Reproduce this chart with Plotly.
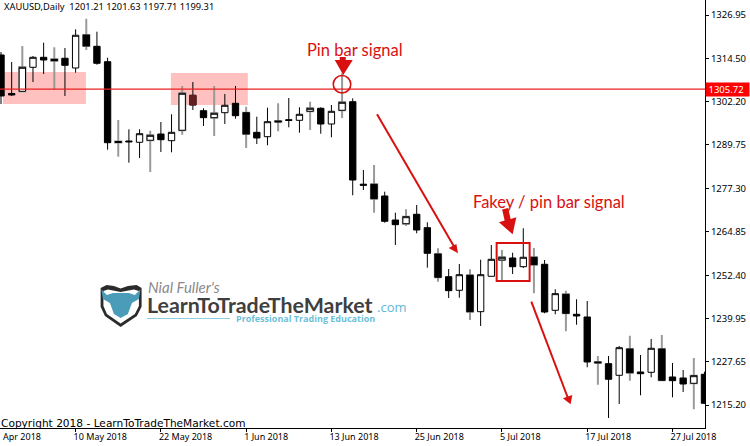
import plotly.graph_objects as go

# ---- data (XAUUSD daily) ----
bar_index = list(range(67))
opens = [1315.5,1304.46,1305.09,1311.97,1314.83,1314.26,1314.55,1311.77,1321.22,1317.98,1313.57,1290.71,1290.85,1290.48,1291.05,1292.85,1290.94,1293.92,1303.94,1299.53,1297.53,1298.96,1301.65,1298.96,1293.34,1292.08,1296.58,1296.95,1296.78,1299.36,1300.22,1295.72,1299.65,1302.11,1278.47,1278.44,1275.09,1268.21,1267.15,1269.85,1266.01,1258.47,1251.97,1248.07,1252.37,1241.94,1252.08,1256.75,1257.33,1254.83,1257.53,1255.52,1242.34,1246.92,1241.19,1240.42,1227.53,1227.04,1223.72,1231.25,1224.66,1224.57,1231.25,1223.23,1222.94,1221.42,1224.0]
highs = [1316.35,1313.49,1318.07,1315.2,1319.02,1317.7,1317.5,1322.85,1325.89,1322.17,1314.72,1296.87,1294.2,1294.2,1293.8,1296.29,1298.5,1306.61,1307.75,1300.22,1306.61,1304.32,1306.61,1300.68,1297.81,1300.39,1301.65,1303.17,1300.51,1302.11,1300.51,1301.16,1310.25,1303.08,1282.54,1283.97,1276.32,1270.3,1271.28,1272.51,1267.55,1260.1,1254.17,1255.61,1254.09,1256.84,1261.05,1259.62,1258.84,1265.84,1260.19,1256.75,1248.36,1247.96,1245.49,1245.0,1229.25,1229.25,1232.11,1235.06,1229.53,1234.12,1235.26,1227.24,1225.23,1228.67,1224.75]
lows = [1301.45,1303.75,1305.05,1307.75,1310.05,1305.66,1303.75,1310.42,1316.92,1312.71,1288.36,1286.35,1284.63,1285.98,1281.97,1287.7,1287.61,1292.65,1299.73,1295.15,1292.28,1295.72,1297.24,1288.84,1289.99,1289.62,1293.63,1294.77,1293.23,1294.0,1292.94,1291.91,1297.44,1275.29,1276.81,1270.3,1267.44,1261.05,1266.49,1264.4,1254.55,1250.53,1245.86,1245.95,1239.56,1237.84,1252.03,1251.02,1252.74,1254.46,1247.21,1241.48,1241.19,1236.32,1238.21,1226.01,1221.02,1211.48,1215.49,1222.17,1217.98,1223.14,1222.17,1217.41,1218.93,1213.97,1215.49]
closes = [1303.75,1304.03,1311.97,1314.83,1314.06,1313.86,1312.54,1321.14,1318.07,1313.11,1290.36,1290.42,1290.62,1292.94,1292.48,1291.22,1293.34,1304.52,1301.16,1297.53,1298.79,1301.08,1298.1,1292.85,1291.71,1296.38,1296.35,1296.75,1298.5,1300.22,1295.72,1299.36,1301.94,1279.67,1278.18,1274.32,1267.84,1266.87,1269.16,1265.35,1258.67,1251.8,1247.96,1252.54,1241.94,1252.54,1256.95,1257.53,1254.83,1257.53,1255.41,1241.85,1247.1,1241.48,1240.71,1227.53,1227.3,1222.57,1231.62,1224.46,1224.17,1231.45,1222.28,1222.17,1221.22,1223.6,1215.69]
x_tick_index = [7, 15, 23, 31, 39, 47, 55, 63]
x_tick_labels = ["10 May 2018", "22 May 2018", "1 Jun 2018", "13 Jun 2018",
                 "25 Jun 2018", "5 Jul 2018", "17 Jul 2018", "27 Jul 2018"]
first_x_label = "Apr 2018"
y_tick_values = [1326.95, 1314.50, 1302.20, 1289.75, 1277.30, 1264.85, 1252.40, 1239.95, 1227.65, 1215.20]
last_level = 1305.72
ohlc_header = "XAUUSD,Daily  1201.21 1201.63 1197.71 1199.31"

# ---- style ----
W_PLOT, H_PLOT = 705.5, 428.0
RED = "#d81010"
TICK_FONT = dict(family="Noto Sans", size=9.5, color="#000000")
X_TICK_FONT = dict(family="Noto Sans", size=9, color="#000000")
GREY_WICK = [2, 5, 8, 11, 14, 17, 20, 23, 26, 29, 32, 35, 38, 41, 44, 47, 50, 53, 56, 59, 62, 65]
TINTED = [18]


def px(x, y):
    return x / W_PLOT, 1 - y / H_PLOT


def poly(points, **kw):
    parts = []
    for k, (x, y) in enumerate(points):
        a, b = px(x, y)
        parts.append(f"{'M' if k == 0 else 'L'}{a:.5f},{b:.5f}")
    return dict(type="path", xref="paper", yref="paper", path=" ".join(parts) + " Z",
                line=dict(width=0), **kw)


def seg(x0, y0, x1, y1, color=RED, width=2):
    a, b = px(x0, y0)
    c, d = px(x1, y1)
    return dict(type="line", xref="paper", yref="paper", x0=a, y0=b, x1=c, y1=d,
                line=dict(color=color, width=width))


def rect(x0, y0, x1, y1, **kw):
    a, b = px(x0, y0)
    c, d = px(x1, y1)
    return dict(type="rect", xref="paper", yref="paper", x0=a, y0=b, x1=c, y1=d, **kw)


def note(x, y, text, size, color="#000000", family="Lato", anchor="left", **kw):
    a, b = px(x, y)
    return dict(xref="paper", yref="paper", x=a, y=b, text=text, showarrow=False, xanchor=anchor,
                yanchor="middle", font=dict(family=family, size=size, color=color),
                borderpad=0, **kw)


def candles(idx, body_only=False, wick="#000000", width=1, fill_up="#ffffff", fill_down="#000000"):
    o = [opens[i] for i in idx]
    c = [closes[i] for i in idx]
    if body_only:
        h = [max(a, b) for a, b in zip(o, c)]
        l = [min(a, b) for a, b in zip(o, c)]
    else:
        h = [highs[i] for i in idx]
        l = [lows[i] for i in idx]
    return go.Candlestick(
        x=[bar_index[i] for i in idx], open=o, high=h, low=l, close=c,
        increasing=dict(line=dict(color=wick, width=width), fillcolor=fill_up),
        decreasing=dict(line=dict(color=wick, width=width), fillcolor=fill_down),
        showlegend=False,
    )


sharp = [i for i in bar_index if i not in GREY_WICK]
fig = go.Figure()
fig.add_trace(candles(GREY_WICK, wick="#9a9a9a", width=2))
fig.add_trace(candles(sharp))
fig.add_trace(candles(GREY_WICK, body_only=True))
fig.add_trace(candles(TINTED, body_only=True, fill_down="#602020", wick="#602020"))

shapes = [
    rect(3, 72, 86, 104, fillcolor="#ffc0c0", line_width=0, layer="below"),
    rect(171, 73, 248, 105, fillcolor="#ffc0c0", line_width=0, layer="below"),
    dict(type="line", xref="paper", yref="y", x0=0, x1=1, y0=last_level, y1=last_level,
         line=dict(color="#e82020", width=1.2)),
    # circle and pin-bar arrow
    dict(type="circle", xref="paper", yref="paper",
         x0=px(333.5, 0)[0], x1=px(351, 0)[0], y0=px(0, 75.5)[1], y1=px(0, 93)[1],
         line=dict(color=RED, width=1.6)),
    poly([(340, 57), (346, 57), (346, 60), (353, 60), (343.5, 75), (335, 60), (340, 60)], fillcolor=RED),
    # long arrows
    seg(377.3, 114.3, 455.5, 248.5),
    poly([(458.3, 253.3), (449, 248), (456.7, 244)], fillcolor=RED),
    seg(531.7, 301.7, 568.5, 398.5),
    poly([(571, 404.3), (563.3, 398.3), (572.7, 395)], fillcolor=RED),
    # fakey box and arrow
    rect(497, 243, 530, 281, line=dict(color=RED, width=2), fillcolor="rgba(0,0,0,0)"),
    poly([(502.5, 209.5), (508.5, 208), (511, 219), (516.7, 217.3), (513, 234.3), (499.3, 222.3), (505, 220.5)],
         fillcolor=RED),
    # logo shield
    poly([(100.7, 288), (106.7, 285), (114, 286), (120.7, 288.5), (128, 286), (136.7, 285), (141.7, 288),
          (141.7, 306.7), (137, 316), (120.7, 327), (105, 316), (100.7, 306.7)], fillcolor="#2b2b2b"),
    poly([(103.5, 291), (108, 289.5), (120.7, 292), (134, 289.5), (139, 291), (139, 306), (135, 314),
          (120.7, 323.5), (107, 314), (103.5, 306)], fillcolor="#ffffff"),
    poly([(101.5, 289.5), (107, 295), (113, 293), (129, 293), (135, 295), (140.5, 289.5), (139, 299),
          (132, 303), (128, 314), (120.7, 318), (114, 314), (110, 303), (103, 299)], fillcolor="#4a9cb8"),
    seg(147, 318.5, 230, 318.5, color="#8ccfe0", width=1.2),
]

annotations = [
    note(3, 6.5, ohlc_header, 9.3, family="Noto Sans"),
    note(0, 423, "Copyright 2018 - LearnToTradeTheMarket.com", 10.6, family="DejaVu Sans"),
    note(2, 436.5, first_x_label, 9, family="Noto Sans"),
    note(306, 50, "Pin bar signal", 16.5, color=RED),
    note(472, 202, "Fakey / pin bar signal", 16.5, color=RED),
    dict(xref="paper", yref="y", x=706 / W_PLOT, y=last_level, text="&nbsp;1305.72&nbsp;&nbsp;", showarrow=False,
         xanchor="left", yanchor="middle", bgcolor="#ff0000", borderpad=0,
         font=dict(family="Noto Sans", size=9.5, color="#ffffff")),
    note(147, 287, "<i>Nial Fuller's</i>", 15, color="#8a8a8a"),
    note(146, 305, "<b>LearnToTradeTheMarket</b>", 21.4, color="#3f3f3f", family="Lato"),
    note(376, 307, ".com", 13, color="#63b8d4", family="Open Sans"),
    note(235, 318.5, "<b>Professional Trading Education</b>", 9, color="#6dbfd8", family="Open Sans"),
]

fig.update_layout(
    width=750, height=446,
    margin=dict(l=0, r=750 - W_PLOT, t=0, b=446 - H_PLOT, pad=0),
    paper_bgcolor="#ffffff", plot_bgcolor="#ffffff",
    showlegend=False, shapes=shapes, annotations=annotations, boxgap=0.15, boxgroupgap=0.3,
    xaxis=dict(range=[-0.094, 66.05], rangeslider=dict(visible=False), showgrid=False, zeroline=False,
               showline=True, linecolor="#000000", linewidth=1,
               tickmode="array", tickvals=x_tick_index, ticktext=x_tick_labels, ticks="outside",
               ticklen=3, tickcolor="#000000", tickangle=0, tickfont=X_TICK_FONT,
               ticklabelposition="outside right", ticklabelshift=-3),
    yaxis=dict(range=[1208.61, 1331.25], side="right", showgrid=False, zeroline=False,
               showline=True, linecolor="#000000", linewidth=1,
               tickmode="array", tickvals=y_tick_values, tickformat=".2f", ticks="outside",
               ticklen=3, tickcolor="#000000", tickfont=TICK_FONT),
)

fig.write_html("out.html", config={"displayModeBar": False},
               post_script="document.body.style.margin='0';document.body.style.overflow='hidden';")
